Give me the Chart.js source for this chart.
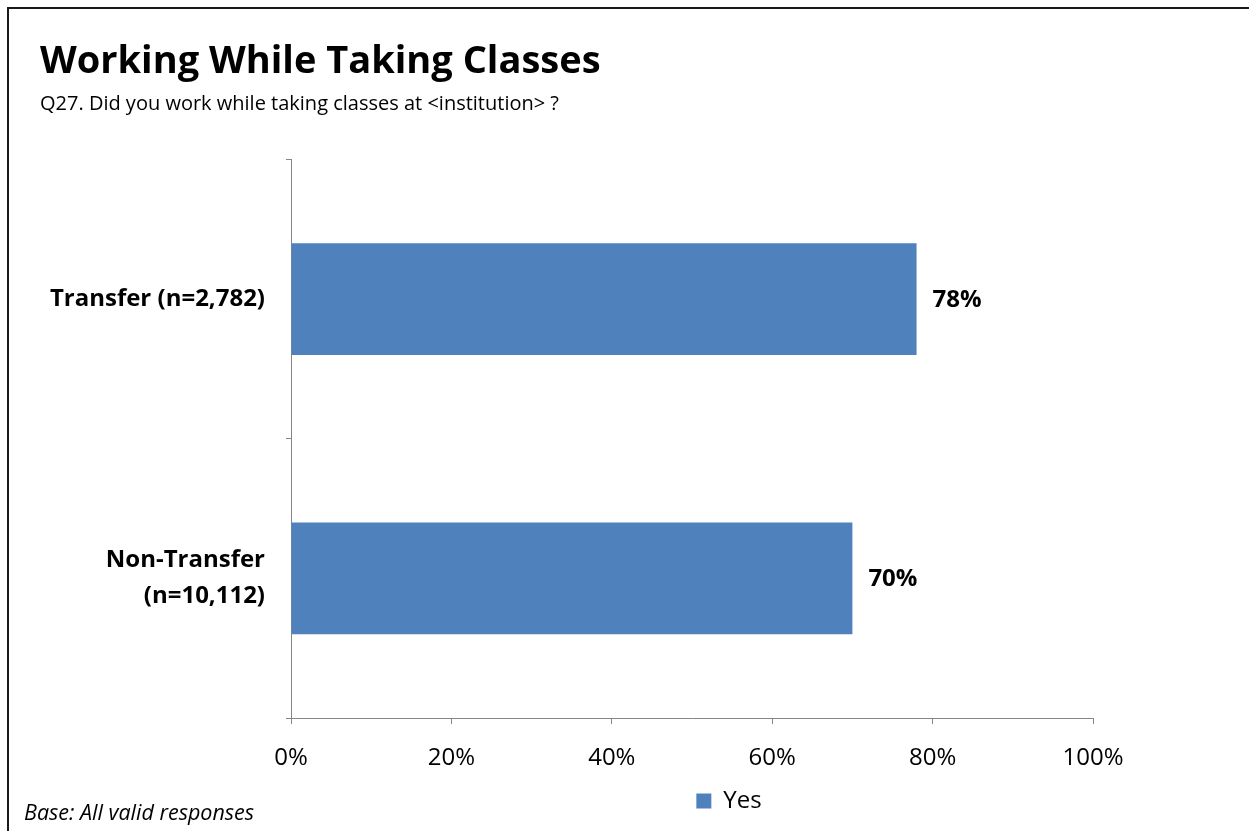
<!DOCTYPE html>
<html>
<head>
<meta charset="utf-8">
<title>Working While Taking Classes</title>
<script src="https://cdn.jsdelivr.net/npm/chart.js@4.4.1/dist/chart.umd.min.js"></script>
<style>
html, body { margin: 0; padding: 0; background: #fff; }
#chart { display: block; }
</style>
</head>
<body>
<canvas id="chart" width="1249" height="831"></canvas>
<script>
// Datos del gráfico
const categories = ['Transfer (n=2,782)', ['Non-Transfer', '(n=10,112)']];
const seriesName = 'Yes';
const yesValues = [78, 70];
const xTicks = [0, 20, 40, 60, 80, 100];

const titleText = 'Working While Taking Classes';
const subtitleText = 'Q27. Did you work while taking classes at <institution> ?';
const footnoteText = 'Base: All valid responses';

const colors = {
  bar: '#4f81bd',
  axis: '#868686',
  text: '#000000',
  frame: '#1a1a1a'
};
const fontFamily = "'Open Sans', 'Noto Sans', sans-serif";

// Fondo, marco y nota al pie
const framePlugin = {
  id: 'frame',
  beforeDraw(chart) {
    const ctx = chart.ctx;
    ctx.save();
    ctx.fillStyle = '#fff';
    ctx.fillRect(0, 0, chart.width, chart.height);
    ctx.strokeStyle = colors.frame;
    ctx.lineWidth = 2;
    ctx.beginPath();
    ctx.moveTo(8, chart.height);
    ctx.lineTo(8, 8);
    ctx.lineTo(chart.width, 8);
    ctx.stroke();
    ctx.restore();
  },
  afterDraw(chart) {
    const ctx = chart.ctx;
    ctx.save();
    ctx.fillStyle = colors.text;
    ctx.font = 'italic 21.5px ' + fontFamily;
    ctx.textBaseline = 'alphabetic';
    ctx.fillText(footnoteText, 24, 820);
    ctx.restore();
  }
};

// Etiquetas de valor al final de cada barra
const valueLabels = {
  id: 'valueLabels',
  afterDatasetsDraw(chart) {
    const ctx = chart.ctx;
    const meta = chart.getDatasetMeta(0);
    ctx.save();
    ctx.fillStyle = colors.text;
    ctx.font = 'bold 24px ' + fontFamily;
    ctx.textAlign = 'left';
    ctx.textBaseline = 'middle';
    meta.data.forEach((bar, i) => {
      ctx.fillText(yesValues[i] + '%', bar.x + 16, bar.y + 1);
    });
    ctx.restore();
  }
};

// Desplazar la leyenda hacia la derecha como en el original
const legendShift = {
  id: 'legendShift',
  afterLayout(chart) {
    if (chart.legend) {
      chart.legend.left += 37;
      chart.legend.right += 37;
    }
  }
};

new Chart(document.getElementById('chart'), {
  type: 'bar',
  data: {
    labels: categories,
    datasets: [{
      label: seriesName,
      data: yesValues,
      backgroundColor: colors.bar,
      borderWidth: 0,
      barPercentage: 0.4,
      categoryPercentage: 1.0
    }]
  },
  options: {
    indexAxis: 'y',
    responsive: false,
    animation: false,
    layout: {
      padding: { left: 40, right: 156, top: 0, bottom: 8 }
    },
    plugins: {
      title: {
        display: true,
        text: titleText,
        align: 'start',
        color: colors.text,
        font: { family: fontFamily, size: 38, weight: 'bold' },
        padding: { top: 39, bottom: 8 }
      },
      subtitle: {
        display: true,
        text: subtitleText,
        align: 'start',
        color: colors.text,
        font: { family: fontFamily, size: 20 },
        padding: { top: 0, bottom: 43 }
      },
      legend: {
        display: true,
        position: 'bottom',
        fullSize: false,
        labels: {
          color: colors.text,
          font: { family: fontFamily, size: 24 },
          boxWidth: 15,
          boxHeight: 15,
          padding: 4
        }
      },
      tooltip: { enabled: false }
    },
    scales: {
      x: {
        min: 0,
        max: 100,
        afterBuildTicks(scale) {
          scale.ticks = xTicks.map(v => ({ value: v }));
        },
        afterFit(scale) {
          scale.height = 67;
        },
        border: { display: true, color: colors.axis, width: 1 },
        grid: {
          drawOnChartArea: false,
          drawTicks: true,
          tickLength: 6,
          color: colors.axis
        },
        ticks: {
          color: colors.text,
          padding: 20,
          font: { family: fontFamily, size: 24 },
          callback: v => v + '%'
        }
      },
      y: {
        afterFit(scale) {
          scale.width = 251;
        },
        border: { display: true, color: colors.axis, width: 1 },
        grid: {
          drawOnChartArea: false,
          drawTicks: true,
          tickLength: 5,
          color: colors.axis,
          offset: true
        },
        ticks: {
          color: colors.text,
          padding: 21,
          font: { family: fontFamily, size: 24, weight: 'bold', lineHeight: 1.5 }
        }
      }
    }
  },
  plugins: [framePlugin, valueLabels, legendShift]
});
</script>
</body>
</html>
